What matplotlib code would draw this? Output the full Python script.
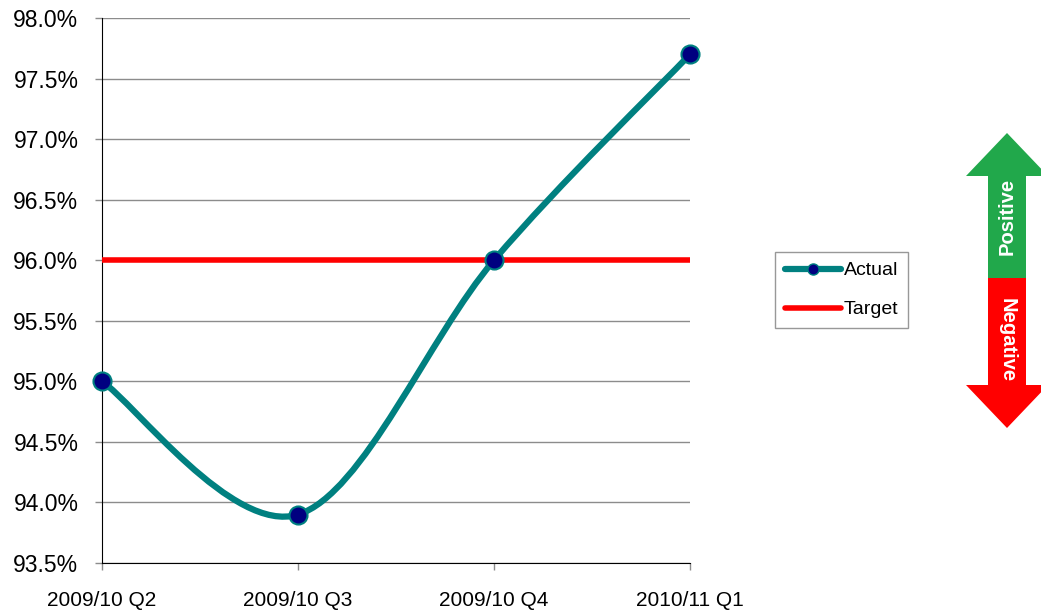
import numpy as np
import matplotlib
matplotlib.use("Agg")
import matplotlib.pyplot as plt
from matplotlib.path import Path
from matplotlib.patches import PathPatch, Polygon
from matplotlib.lines import Line2D
from matplotlib.ticker import FuncFormatter, MultipleLocator

plt.rcParams['font.family'] = ['Liberation Sans', 'DejaVu Sans']

categories = ["2009/10 Q2", "2009/10 Q3", "2009/10 Q4", "2010/11 Q1"]
actual = [95.0, 93.9, 96.0, 97.7]
target = [96.0, 96.0, 96.0, 96.0]

W, H = 1041, 611
fig = plt.figure(figsize=(W / 100, H / 100), dpi=100)
ax = fig.add_axes([102 / W, 1 - 563 / H, (690 - 102) / W, (563 - 18) / H])

x = np.arange(len(categories))
ax.set_xlim(0, len(categories) - 1)
ax.set_ylim(93.5, 98.0)

ax.yaxis.set_major_locator(MultipleLocator(0.5))
ax.yaxis.set_major_formatter(FuncFormatter(lambda v, p: f"{v:.1f}%"))
ax.grid(axis='y', color='#8c8c8c', lw=1)
ax.set_axisbelow(True)
ax.set_xticks(x)
ax.set_xticklabels(categories)
ax.tick_params(axis='both', colors='#8c8c8c', labelcolor='black', length=5, width=1)
ax.tick_params(axis='x', labelsize=15, pad=15)
ax.tick_params(axis='y', labelsize=16.5, pad=12)
for s in ['top', 'right']:
    ax.spines[s].set_visible(False)
ax.spines['left'].set_color('black')
ax.spines['bottom'].set_color('black')

# target line
ax.plot(x, target, color='#ff0000', lw=4, solid_capstyle='butt', zorder=3)

# smoothed actual line (Excel-style Bezier smoothing in display space)
fig.canvas.draw()
pts = ax.transData.transform(np.column_stack([x, actual]))
n = len(pts)
verts = [pts[0]]
codes = [Path.MOVETO]
for i in range(n - 1):
    p0 = pts[max(i - 1, 0)]
    p1 = pts[i]
    p2 = pts[i + 1]
    p3 = pts[min(i + 2, n - 1)]
    c1 = p1 + (p2 - p0) / 6.0
    c2 = p2 - (p3 - p1) / 6.0
    verts += [c1, c2, p2]
    codes += [Path.CURVE4] * 3
verts = ax.transData.inverted().transform(np.array(verts))
path = Path(verts, codes)
ax.add_patch(PathPatch(path, facecolor='none', edgecolor='#008080', lw=4.5, zorder=4, capstyle='round'))
ax.plot(x, actual, linestyle='none', marker='o', ms=13, mfc='#000080', mec='#008080', mew=1.5, zorder=5, clip_on=False)

# legend
handles = [
    Line2D([], [], color='#008080', lw=4.5, marker='o', ms=8, mfc='#000080', mec='#008080', solid_capstyle='round'),
    Line2D([], [], color='#ff0000', lw=4, solid_capstyle='round'),
]
leg = fig.legend(handles, ["Actual", "Target"], loc='center left',
                 bbox_to_anchor=(775 / W, 1 - 290 / H), fontsize=14,
                 frameon=True, fancybox=False, edgecolor='#7f7f7f',
                 handlelength=2.9, handletextpad=0.15, labelspacing=1.1,
                 borderpad=0.5, borderaxespad=0)
leg.get_frame().set_linewidth(1)

# direction arrow
ax2 = fig.add_axes([0, 0, 1, 1], zorder=-1)
ax2.set_xlim(0, W)
ax2.set_ylim(H, 0)
ax2.axis('off')
green = [(1007, 133), (1048, 176), (1026, 176), (1026, 278), (988, 278), (988, 176), (966, 176)]
red = [(988, 278), (1026, 278), (1026, 385), (1048, 385), (1007, 428), (966, 385), (988, 385)]
ax2.add_patch(Polygon(green, closed=True, facecolor='#21a84b', edgecolor='none'))
ax2.add_patch(Polygon(red, closed=True, facecolor='#ff0000', edgecolor='none'))
ax2.text(1007, 216, "Positive", rotation=90, ha='center', va='center', color='white', fontsize=14.5, fontweight='bold')
ax2.text(1007, 340, "Negative", rotation=-90, ha='center', va='center', color='white', fontsize=14.5, fontweight='bold')

fig.savefig("out.png", dpi=100)
